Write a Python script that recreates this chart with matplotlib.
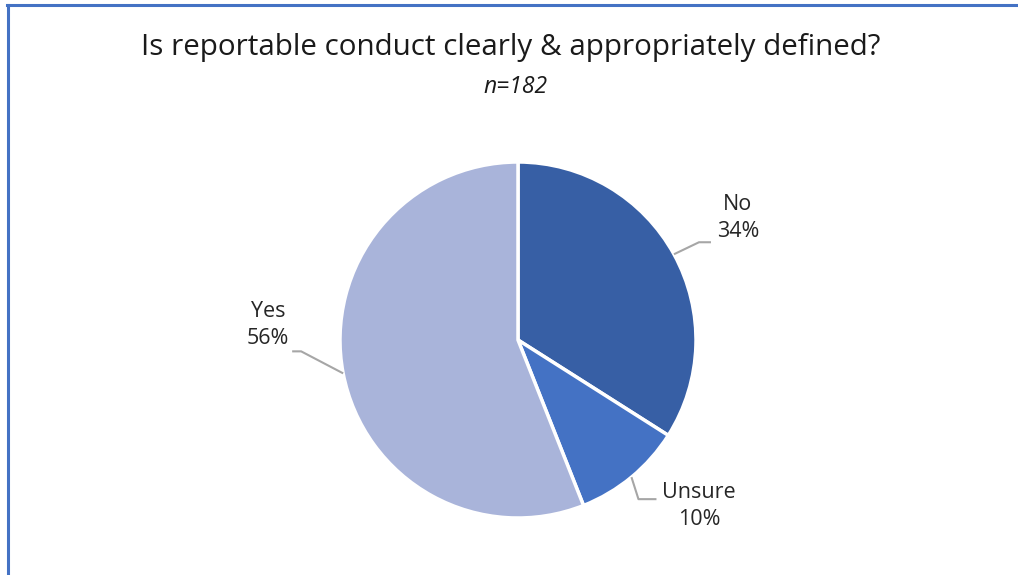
import matplotlib.pyplot as plt
import numpy as np
from matplotlib.lines import Line2D

TITLE = "Is reportable conduct clearly & appropriately defined?"
SUBTITLE = "n=182"

labels = ["No", "Unsure", "Yes"]
shares = [34, 10, 56]
colors = ["#375FA5", "#4472C4", "#A9B4DA"]

W, H = 1018, 575
CENTER = (518, H - 340)
RADIUS = 178

# label block center + leader line bends, offsets in px from the wedge edge point
label_pos = {"No": (738, H - 218), "Unsure": (699, H - 506), "Yes": (268, H - 325)}
leaders = {
    "No": [(25, 12), (37, 12)],
    "Unsure": [(7, -22), (25, -22)],
    "Yes": [(-42, 22), (-51, 22)],
}

plt.rcParams["font.family"] = ["Open Sans", "DejaVu Sans"]

fig = plt.figure(figsize=(W / 100, H / 100), dpi=100)
ax = fig.add_axes([0, 0, 1, 1])

wedges, _ = ax.pie(
    shares,
    colors=colors,
    startangle=90,
    counterclock=False,
    center=CENTER,
    radius=RADIUS,
    wedgeprops=dict(edgecolor="white", linewidth=2.5),
    frame=True,
)
ax.set_xlim(0, W)
ax.set_ylim(0, H)
ax.set_aspect("equal")
ax.axis("off")

for w, name, val in zip(wedges, labels, shares):
    mid = np.deg2rad((w.theta1 + w.theta2) / 2)
    x0 = CENTER[0] + RADIUS * np.cos(mid)
    y0 = CENTER[1] + RADIUS * np.sin(mid)
    pts = [(x0, y0)] + [(x0 + dx, y0 + dy) for dx, dy in leaders[name]]
    xs, ys = zip(*pts)
    ax.plot(xs, ys, color="#A6A6A6", lw=1.5, solid_capstyle="butt")
    lx, ly = label_pos[name]
    ax.text(lx, ly, f"{name}\n{val}%", ha="center", va="center",
            fontsize=15.5, color="#262626", linespacing=1.4)

fig.text(0.502, 1 - 47 / H, TITLE, ha="center", va="center",
         fontsize=21.3, color="#1a1a1a")
fig.text(0.506, 1 - 87 / H, SUBTITLE, ha="center", va="center",
         fontsize=16.5, style="italic", color="#1a1a1a")

# chart frame: top and left edges
fig.add_artist(Line2D([7 / W, 1], [1 - 5 / H, 1 - 5 / H],
                      transform=fig.transFigure, color="#4472C4", lw=2.2))
fig.add_artist(Line2D([8 / W, 8 / W], [0, 1 - 5 / H],
                      transform=fig.transFigure, color="#4472C4", lw=2.2))

fig.savefig("out.png", dpi=100)
